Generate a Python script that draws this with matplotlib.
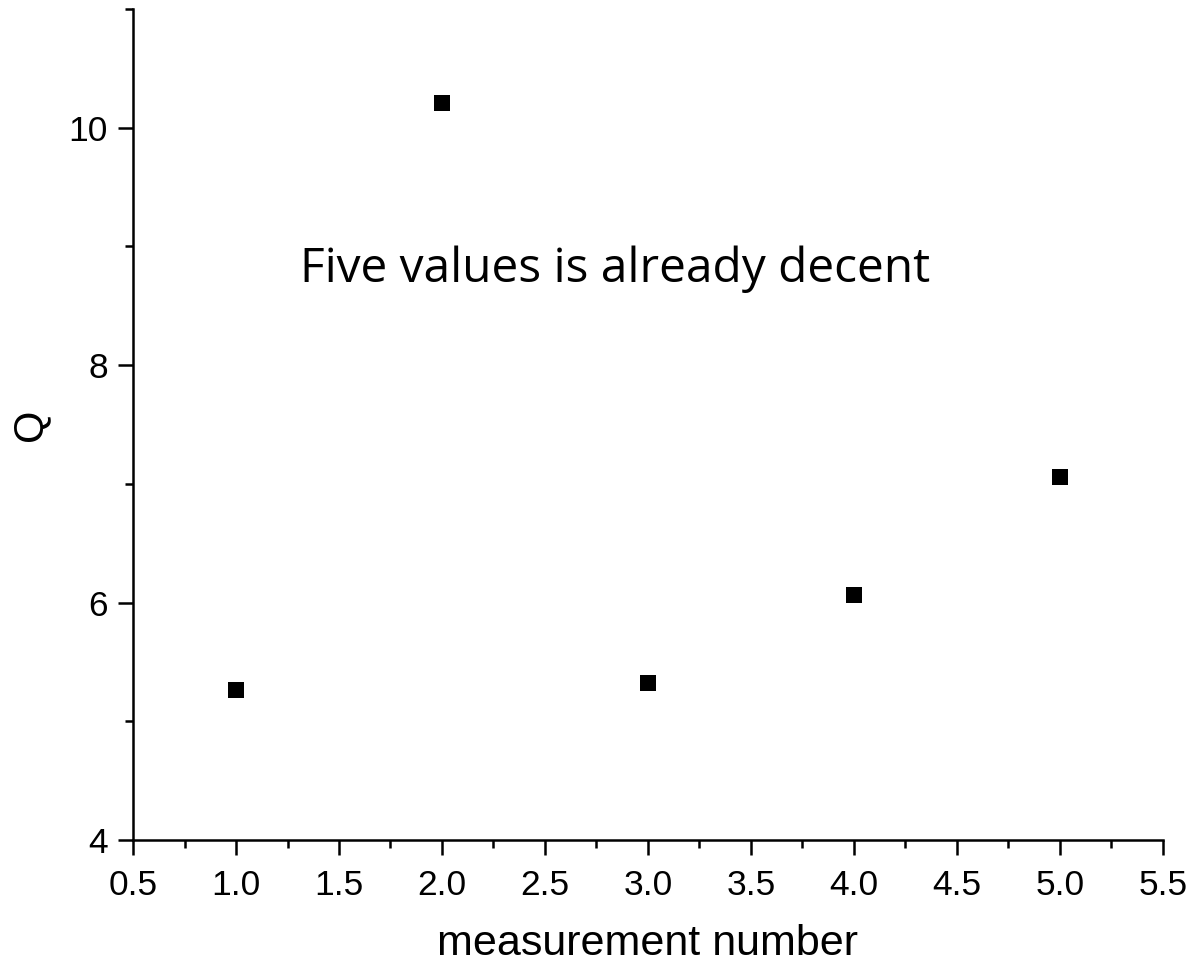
import numpy as np
import matplotlib
matplotlib.use("Agg")
import matplotlib.pyplot as plt
from matplotlib.ticker import MultipleLocator

# measurement index and the Q value obtained for it
measurement = [1, 2, 3, 4, 5]
q_values = [5.26, 10.21, 5.32, 6.06, 7.06]

x_ticks = [0.5, 1.0, 1.5, 2.0, 2.5, 3.0, 3.5, 4.0, 4.5, 5.0, 5.5]
y_ticks = [4, 6, 8, 10]

plt.rcParams["font.family"] = ["Liberation Sans", "DejaVu Sans"]

fig = plt.figure(figsize=(11.94, 9.67), dpi=100)
ax = fig.add_axes([0.1114, 0.1313, 0.8626, 0.8594])

ax.plot(measurement, q_values, "s", color="black", markersize=12, markeredgewidth=0)

ax.set_xlim(0.5, 5.5)
ax.set_ylim(4, 11)
ax.set_xticks(x_ticks)
ax.set_xticklabels([f"{t:.1f}" for t in x_ticks])
ax.set_yticks(y_ticks)
ax.xaxis.set_minor_locator(MultipleLocator(0.25))
ax.yaxis.set_minor_locator(MultipleLocator(1))

for side in ("top", "right"):
    ax.spines[side].set_visible(False)
for side in ("left", "bottom"):
    ax.spines[side].set_linewidth(1.8)

ax.tick_params(which="major", direction="out", length=11, width=1.8, labelsize=25.5)
ax.tick_params(axis="x", which="major", pad=10)
ax.tick_params(axis="y", which="major", pad=7)
ax.tick_params(which="minor", direction="out", length=6, width=1.8)

ax.set_xlabel("measurement number", fontsize=31, labelpad=16)
ax.set_ylabel("Q", fontsize=30, labelpad=13)

ax.text(2.84, 8.81, "Five values is already decent", fontsize=34.5,
        family=["Open Sans", "DejaVu Sans"], ha="center", va="center")

fig.savefig("out.png", dpi=100)
